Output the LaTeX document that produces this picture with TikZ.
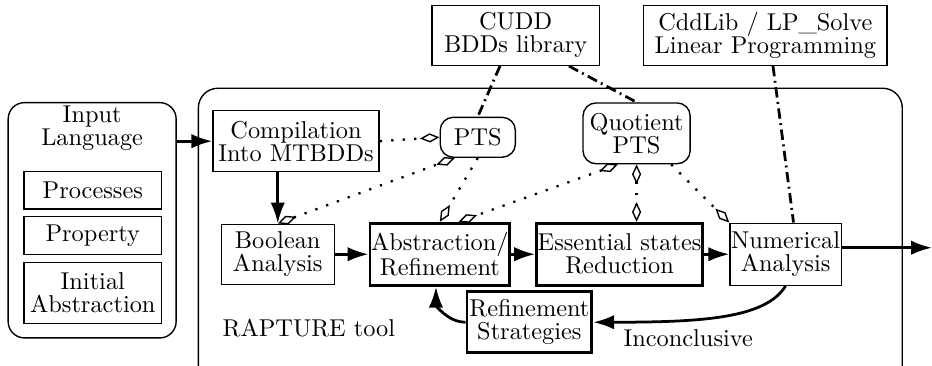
\documentclass[tikz,border=0pt]{standalone}
\usepackage{tikz}
\usetikzlibrary{
  arrows.meta,
  positioning
}
\tikzset{
  dia/.tip={Diamond[open, length=3mm, width=1.4mm, line width=0.6pt]}
}

\begin{document}
\begin{tikzpicture}[
  box/.style={draw, line width=0.6pt, inner sep=0.5pt, align=center, font=\fontsize{10.6}{10}\selectfont},
  hbox/.style={box, line width=1.2pt},
  rbox/.style={box, rounded corners=0.2cm},
  frame/.style={draw, line width=0.6pt},
  arr/.style={-{Latex[length=3.2mm, width=2.2mm]}, line width=1.2pt},
  dep/.style={line width=1pt, dash pattern=on 1pt off 4pt},
  lib/.style={line width=1.2pt, dash pattern=on 4.5pt off 2pt on 0.8pt off 2pt},
  lbl/.style={inner sep=0pt, align=center, font=\fontsize{10.6}{10}\selectfont}
]
  \useasboundingbox (0,0) rectangle (14.26,-5.585);

  % frames
  \node[frame, rounded corners=0.25cm, minimum width=2.57cm, minimum height=3.60cm] (inlang) at (1.41,-3.37) {};
  \node[frame, rounded corners=0.3cm, minimum width=10.77cm, minimum height=4.54cm] (tool) at (8.42,-3.62) {};

  % input language
  \node[lbl] (inlbl) at (1.41,-1.96) {Input\\Language};
  \node[box, minimum width=2.10cm, minimum height=0.58cm] (proc) at (1.42,-2.91) {Processes};
  \node[box, minimum width=2.10cm, minimum height=0.58cm] (prop) at (1.42,-3.60) {Property};
  \node[box, minimum width=2.10cm, minimum height=0.93cm] (init) at (1.42,-4.48) {Initial\\Abstraction};

  % libraries
  \node[box, minimum width=2.56cm, minimum height=0.92cm] (cudd) at (7.89,-0.54) {CUDD\\BDDs library};
  \node[box, minimum width=3.72cm, minimum height=0.92cm] (lp) at (11.71,-0.54) {CddLib / LP\_Solve\\Linear Programming};

  % tool steps
  \node[box, minimum width=2.54cm, minimum height=0.93cm] (comp) at (4.53,-2.16) {Compilation\\Into MTBDDs};
  \node[rbox, minimum width=1.15cm, minimum height=0.61cm] (pts) at (7.31,-2.10) {PTS};
  \node[rbox, minimum width=1.64cm, minimum height=0.93cm] (qpts) at (9.74,-2.04) {Quotient\\PTS};
  \node[box, minimum width=1.73cm, minimum height=0.92cm] (bool) at (4.25,-3.89) {Boolean\\Analysis};
  \node[hbox, minimum width=2.11cm, minimum height=0.95cm] (abs) at (6.73,-3.89) {Abstraction/\\Refinement};
  \node[hbox, minimum width=2.34cm, minimum height=0.95cm] (ess) at (9.48,-3.89) {Essential states\\Reduction};
  \node[box, minimum width=1.70cm, minimum height=0.95cm] (num) at (12.02,-3.89) {Numerical\\Analysis};
  \node[hbox, minimum width=1.91cm, minimum height=0.93cm] (ref) at (8.10,-4.93) {Refinement\\Strategies};
  \node[lbl, anchor=west] (raptlbl) at (3.40,-5.02) {RAPTURE tool};
  \node[lbl] (incl) at (10.53,-5.17) {Inconclusive};
  \coordinate (out) at (14.26,-3.79);

  % main flow
  \draw[arr] (comp.west -| inlang.east) -- (comp.west);
  \draw[arr] (comp.south -| bool.north) -- (bool.north);
  \foreach \a/\b in {bool/abs, abs/ess, ess/num} { \draw[arr] (\a) -- (\b); }
  \draw[arr] (num.east |- out) -- (out);
  \draw[arr] (num.south) .. controls +(-0.31,-0.5) and +(1.65,0) .. (ref.east);
  \draw[arr] (ref.west) to[out=180, in=-90] ([xshift=-0.06cm]abs.south);

  % data structures
  \draw[dep, -dia] (comp.east) -- (pts.west);
  \draw[dep, dia-dia] (bool.north) -- (pts.222);
  \draw[dep, -dia] (pts.south) -- (abs.north);
  \draw[dep, dia-dia] (qpts.239) -- (abs.60);
  \draw[dep, dia-dia] (qpts.south) -- (qpts.south |- ess.north);
  \draw[dep, -dia] (qpts.318) -- (num.north west);

  % libraries used
  \draw[lib] (cudd.243) -- (pts.north);
  \draw[lib] (cudd.330) -- (qpts.north);
  \draw[lib] (lp.284) -- (num.76);
\end{tikzpicture}
\end{document}
